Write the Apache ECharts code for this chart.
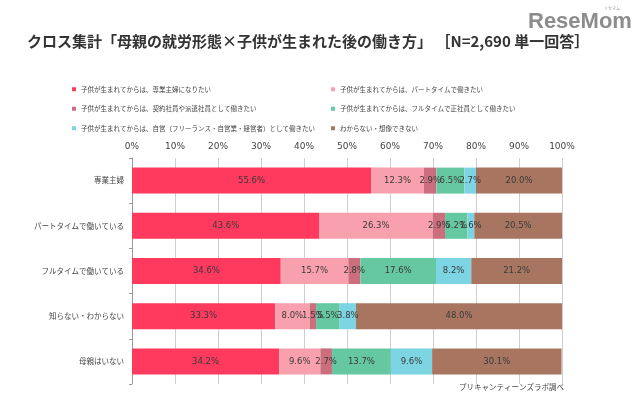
<!DOCTYPE html>
<html>
<head>
<meta charset="utf-8">
<script src="https://cdn.jsdelivr.net/npm/echarts@6/dist/echarts.min.js"></script>
<style>
  html, body { margin: 0; padding: 0; background: #fff; }
  #chart { width: 640px; height: 397px; }
</style>
</head>
<body>
<div id="chart"></div>
<script>
var categories = ['専業主婦', 'パートタイムで働いている', 'フルタイムで働いている', '知らない・わからない', '母親はいない'];
var seriesNames = [
  '子供が生まれてからは、専業主婦になりたい',
  '子供が生まれてからは、パートタイムで働きたい',
  '子供が生まれてからは、契約社員や派遣社員として働きたい',
  '子供が生まれてからは、フルタイムで正社員として働きたい',
  '子供が生まれてからは、自営（フリーランス・自営業・経営者）として働きたい',
  'わからない・想像できない'
];
var housewife = [55.6, 43.6, 34.6, 33.3, 34.2];
var partTime  = [12.3, 26.3, 15.7, 8.0, 9.6];
var contract  = [2.9, 2.9, 2.8, 1.5, 2.7];
var fullTime  = [6.5, 5.2, 17.6, 5.5, 13.7];
var selfEmp   = [2.7, 1.6, 8.2, 3.8, 9.6];
var unknown   = [20.0, 20.5, 21.2, 48.0, 30.1];
var colors = ['#ff3a5e', '#f9a0ae', '#cc6e7e', '#66c8a0', '#7dd4e2', '#a87660'];

var values = [housewife, partTime, contract, fullTime, selfEmp, unknown];
var font = '"Noto Sans CJK JP", sans-serif';

var series = seriesNames.map(function (name, i) {
  return {
    name: name,
    type: 'bar',
    stack: 'total',
    barWidth: 26,
    itemStyle: { color: colors[i] },
    label: {
      show: true,
      position: 'inside',
      formatter: function (p) { return p.value.toFixed(1) + '%'; },
      color: '#3a3a3a',
      fontFamily: 'DejaVu Sans',
      fontSize: 8.5
    },
    data: values[i]
  };
});

var myChart = echarts.init(document.getElementById('chart'));
var option = {
  backgroundColor: '#fff',
  animation: false,
  color: colors,
  legend: [
    {
      data: [seriesNames[0], seriesNames[2], seriesNames[4]],
      orient: 'vertical', left: 67, top: 81, itemGap: 13,
      itemWidth: 4, itemHeight: 4, icon: 'rect',
      textStyle: { fontSize: 6.5, color: '#444', fontFamily: font }
    },
    {
      data: [seriesNames[1], seriesNames[3], seriesNames[5]],
      orient: 'vertical', left: 326, top: 81, itemGap: 13,
      itemWidth: 4, itemHeight: 4, icon: 'rect',
      textStyle: { fontSize: 6.5, color: '#444', fontFamily: font }
    }
  ],
  grid: { left: 132, right: 78, top: 158, height: 226, containLabel: false },
  xAxis: {
    type: 'value', position: 'top', min: 0, max: 100, interval: 10,
    axisLabel: { formatter: '{value}%', color: '#444', fontSize: 9, fontFamily: 'DejaVu Sans', margin: 7 },
    axisLine: { show: false },
    axisTick: { show: false },
    splitLine: { lineStyle: { color: '#cfcfcf', width: 1 } }
  },
  yAxis: {
    type: 'category', inverse: true, data: categories,
    axisLine: { lineStyle: { color: '#999' } },
    axisTick: { show: true, length: 3, lineStyle: { color: '#999' } },
    axisLabel: { color: '#444', fontSize: 7.5, fontFamily: font, margin: 8 }
  },
  graphic: [
    {
      type: 'text', left: 27, top: 34,
      style: {
        text: 'クロス集計「母親の就労形態×子供が生まれた後の働き方」 ［N=2,690 単一回答］',
        fontSize: 15, fontWeight: 'bold', fill: '#333', fontFamily: font
      }
    },
    {
      type: 'text', left: 528, top: 11,
      style: { text: 'ReseMom', fontSize: 22, fontWeight: 'bold', fill: '#8c8c8c', fontFamily: 'Liberation Sans' }
    },
    {
      type: 'text', left: 604, top: 6,
      style: { text: 'リセマム', fontSize: 4, fill: '#999', fontFamily: font }
    },
    {
      type: 'text', right: 76, top: 383,
      style: { text: 'プリキャンティーンズラボ調べ', fontSize: 7.5, fill: '#444', fontFamily: font }
    }
  ],
  series: series
};
myChart.setOption(option);
</script>
</body>
</html>
